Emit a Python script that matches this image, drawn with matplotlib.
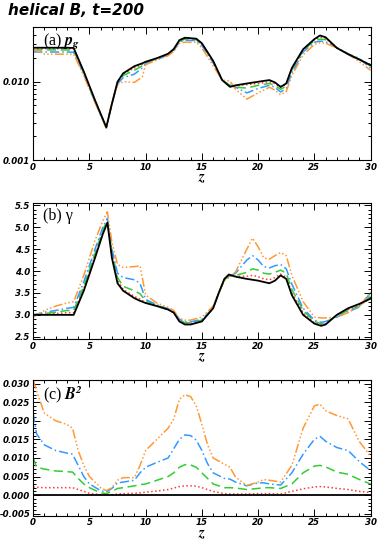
import numpy as np
import matplotlib
matplotlib.use("Agg")
import matplotlib.pyplot as plt
from matplotlib.ticker import MultipleLocator, LogLocator, NullFormatter, FixedLocator, FormatStrFormatter

# ---- data ----
zA = [0, 1, 2, 3, 3.6, 4.5, 5.5, 6.5, 7, 7.5, 8, 9, 9.7, 10, 11, 12, 12.5, 13, 13.5, 14.5,
      15, 16, 16.8, 17.5, 18, 19, 20, 21, 21.5, 22, 22.5, 23, 24, 25, 25.5, 26, 27, 28, 29, 30]
pg_black = [0.0272, 0.0272, 0.0272, 0.0272, 0.0270, 0.0135, 0.0058, 0.00262, 0.0052, 0.0100,
            0.0128, 0.0158, 0.0172, 0.0180, 0.0200, 0.0228, 0.0262, 0.0340, 0.0365, 0.0355,
            0.0310, 0.0185, 0.0105, 0.0086, 0.0090, 0.0095, 0.0100, 0.0105, 0.0098, 0.0086,
            0.0095, 0.0150, 0.0260, 0.0350, 0.0390, 0.0370, 0.0270, 0.0225, 0.0192, 0.0163]
pg_red = [0.0265, 0.0265, 0.0265, 0.0265, 0.0263, 0.0132, 0.0057, 0.00260, 0.0052, 0.0098,
          0.0125, 0.0150, 0.0168, 0.0178, 0.0198, 0.0226, 0.0258, 0.0335, 0.0360, 0.0350,
          0.0305, 0.0182, 0.0105, 0.0088, 0.0088, 0.0092, 0.0095, 0.0100, 0.0095, 0.0084,
          0.0093, 0.0145, 0.0255, 0.0345, 0.0370, 0.0360, 0.0272, 0.0225, 0.0193, 0.0165]
pg_green = [0.0255, 0.0255, 0.0255, 0.0255, 0.0253, 0.0128, 0.0056, 0.00258, 0.0053, 0.0096,
            0.0120, 0.0140, 0.0160, 0.0175, 0.0196, 0.0224, 0.0255, 0.0330, 0.0350, 0.0345,
            0.0300, 0.0180, 0.0105, 0.0090, 0.0085, 0.0083, 0.0090, 0.0095, 0.0090, 0.0080,
            0.0088, 0.0140, 0.0250, 0.0335, 0.0350, 0.0345, 0.0272, 0.0226, 0.0195, 0.0158]
pg_blue = [0.0240, 0.0240, 0.0240, 0.0240, 0.0238, 0.0125, 0.0055, 0.00257, 0.0054, 0.0094,
           0.0113, 0.0125, 0.0150, 0.0172, 0.0193, 0.0220, 0.0250, 0.0320, 0.0340, 0.0335,
           0.0290, 0.0175, 0.0105, 0.0090, 0.0085, 0.0072, 0.0082, 0.0090, 0.0085, 0.0074,
           0.0082, 0.0130, 0.0240, 0.0320, 0.0330, 0.0325, 0.0272, 0.0228, 0.0198, 0.0150]
pg_orange = [0.0265, 0.0225, 0.0225, 0.0225, 0.0225, 0.0120, 0.0054, 0.00255, 0.0056, 0.0092,
             0.0100, 0.0098, 0.0115, 0.0165, 0.0190, 0.0215, 0.0245, 0.0310, 0.0320, 0.0320,
             0.0270, 0.0160, 0.0105, 0.0102, 0.0080, 0.0060, 0.0072, 0.0085, 0.0078, 0.0068,
             0.0075, 0.0120, 0.0220, 0.0300, 0.0315, 0.0310, 0.0270, 0.0225, 0.0180, 0.0140]

zB = [0, 1, 2, 3, 3.6, 4.5, 5.5, 6.2, 6.6, 7, 7.5, 8, 9, 9.5, 10, 11, 12, 12.5, 13, 13.5, 14,
      15, 16, 16.5, 17, 17.4, 18, 19, 19.5, 20, 20.5, 21, 21.5, 22, 22.5, 23, 24, 25, 25.6, 26,
      27, 28, 29, 30]
gam_black = [3.0, 3.0, 3.0, 3.0, 3.0, 3.55, 4.3, 4.85, 5.1, 4.3, 3.72, 3.55, 3.38, 3.32, 3.27,
             3.2, 3.12, 3.05, 2.85, 2.78, 2.78, 2.85, 3.15, 3.5, 3.82, 3.92, 3.87, 3.82, 3.8,
             3.78, 3.75, 3.72, 3.78, 3.9, 3.82, 3.45, 3.0, 2.8, 2.75, 2.78, 3.0, 3.15, 3.25, 3.37]
gam_red = [3.0, 3.02, 3.03, 3.05, 3.05, 3.6, 4.35, 4.9, 5.13, 4.4, 3.8, 3.58, 3.42, 3.36, 3.28,
           3.2, 3.12, 3.05, 2.86, 2.8, 2.8, 2.87, 3.15, 3.5, 3.8, 3.9, 3.88, 3.88, 3.9, 3.87,
           3.82, 3.8, 3.85, 3.93, 3.86, 3.5, 3.05, 2.82, 2.78, 2.8, 3.0, 3.12, 3.22, 3.38]
gam_green = [3.0, 3.03, 3.06, 3.1, 3.1, 3.65, 4.4, 4.95, 5.15, 4.45, 3.85, 3.65, 3.55, 3.48,
             3.32, 3.22, 3.13, 3.06, 2.88, 2.82, 2.82, 2.88, 3.15, 3.5, 3.8, 3.88, 3.9, 3.97,
             4.05, 4.02, 3.95, 3.93, 3.97, 4.02, 3.95, 3.58, 3.1, 2.85, 2.8, 2.83, 2.98, 3.1,
             3.2, 3.42]
gam_blue = [3.0, 3.06, 3.1, 3.15, 3.17, 3.75, 4.5, 5.0, 5.2, 4.5, 3.95, 3.85, 3.8, 3.72, 3.35,
            3.23, 3.14, 3.07, 2.9, 2.84, 2.84, 2.9, 3.15, 3.5, 3.8, 3.87, 3.95, 4.25, 4.35,
            4.25, 4.1, 4.07, 4.12, 4.15, 4.05, 3.7, 3.15, 2.88, 2.83, 2.85, 2.95, 3.07, 3.18, 3.5]
gam_orange = [2.95, 3.1, 3.2, 3.27, 3.3, 3.9, 4.7, 5.15, 5.35, 4.65, 4.15, 4.08, 4.1, 4.12,
              3.45, 3.27, 3.17, 3.1, 2.92, 2.88, 2.88, 2.95, 3.2, 3.5, 3.78, 3.85, 3.98, 4.5,
              4.75, 4.55, 4.3, 4.27, 4.35, 4.42, 4.35, 3.9, 3.3, 2.95, 2.93, 2.93, 2.95, 3.05,
              3.2, 3.52]

zC = [0, 0.3, 1, 2, 3, 3.5, 4, 4.5, 5, 6, 6.5, 7, 7.5, 8, 9, 9.5, 10, 11, 12, 12.5, 13, 13.5,
      14, 14.5, 15, 15.5, 16, 17, 17.5, 18, 19, 20, 20.5, 21, 22, 23, 24, 25, 25.5, 26, 27, 28,
      29, 30]
b2_black = [0.0] * len(zC)
b2_red = [0.0022, 0.0021, 0.002, 0.002, 0.002, 0.002, 0.0015, 0.001, 0.0005, 0.0001, 0.0,
          0.0001, 0.0003, 0.0004, 0.0005, 0.0006, 0.0008, 0.0011, 0.0015, 0.0019, 0.0023,
          0.0025, 0.0025, 0.0024, 0.002, 0.0015, 0.001, 0.0004, 0.0003, 0.0003, 0.0003, 0.0004,
          0.0004, 0.0004, 0.0003, 0.001, 0.0017, 0.0022, 0.0023, 0.0022, 0.0018, 0.0015, 0.001,
          0.0007]
b2_green = [0.010, 0.0075, 0.007, 0.0065, 0.0063, 0.0062, 0.0045, 0.003, 0.002, 0.0006, 0.0004,
            0.001, 0.0018, 0.002, 0.0025, 0.0028, 0.003, 0.004, 0.005, 0.006, 0.0075, 0.0082,
            0.0081, 0.0075, 0.006, 0.0045, 0.003, 0.002, 0.002, 0.0019, 0.0015, 0.0018, 0.002,
            0.002, 0.0018, 0.003, 0.006, 0.0078, 0.008, 0.0076, 0.0062, 0.0056, 0.0042, 0.003]
b2_blue = [0.022, 0.0165, 0.0135, 0.012, 0.0113, 0.011, 0.008, 0.005, 0.003, 0.0012, 0.0008,
           0.0018, 0.0033, 0.0035, 0.004, 0.006, 0.0075, 0.0088, 0.010, 0.0125, 0.015, 0.0162,
           0.016, 0.0148, 0.012, 0.0085, 0.006, 0.0045, 0.0043, 0.0035, 0.0025, 0.0033, 0.0033,
           0.003, 0.0027, 0.006, 0.011, 0.015, 0.0158, 0.0145, 0.0128, 0.012, 0.009, 0.0066]
b2_orange = [0.031, 0.028, 0.022, 0.020, 0.019, 0.018, 0.012, 0.008, 0.005, 0.002, 0.0012,
             0.002, 0.004, 0.0047, 0.0047, 0.008, 0.012, 0.015, 0.018, 0.0205, 0.0258, 0.027,
             0.0265, 0.024, 0.019, 0.0136, 0.010, 0.0083, 0.0075, 0.0048, 0.0026, 0.0035, 0.0042,
             0.004, 0.0035, 0.008, 0.018, 0.024, 0.0245, 0.0227, 0.0214, 0.0205, 0.0144, 0.0105]

styles = [
    ("#ff3b3b", (0, (1, 1.6))),
    ("#33cc33", (0, (6, 3))),
    ("#3399ff", (0, (6, 2, 1, 2))),
    ("#ff9933", (0, (6, 1.5, 1, 1.5, 1, 1.5, 1, 1.5))),
]

# tick labels in bold italic (IDL look)
plt.rcParams["font.family"] = "DejaVu Sans"
plt.rcParams["font.weight"] = "bold"
plt.rcParams["font.style"] = "italic"
plt.rcParams["mathtext.fontset"] = "stix"

fig = plt.figure(figsize=(3.77, 5.45), dpi=100)

left, width = 0.088, 0.895
axA = fig.add_axes([left, 0.7064, width, 0.2440])
axB = fig.add_axes([left, 0.378, width, 0.2495])
axC = fig.add_axes([left, 0.0540, width, 0.2490])


def draw(ax, z, series, black):
    for (col, ls), y in zip(styles, series):
        ax.plot(z, y, color=col, ls=ls, lw=1.1)
    ax.plot(z, black, color="black", lw=1.3)


draw(axA, zA, [pg_red, pg_green, pg_blue, pg_orange], pg_black)
draw(axB, zB, [gam_red, gam_green, gam_blue, gam_orange], gam_black)
draw(axC, zC, [b2_red, b2_green, b2_blue, b2_orange], b2_black)

axA.set_yscale("log")
axA.set_ylim(0.001, 0.05)
axA.yaxis.set_major_locator(FixedLocator([0.001, 0.01]))
axA.yaxis.set_major_formatter(FormatStrFormatter("%.3f"))
axA.yaxis.set_minor_locator(LogLocator(base=10, subs=np.arange(2, 10)))
axA.yaxis.set_minor_formatter(NullFormatter())

axB.set_ylim(2.45, 5.55)
axB.yaxis.set_major_locator(MultipleLocator(0.5))
axB.yaxis.set_minor_locator(MultipleLocator(0.1))
axB.yaxis.set_major_formatter(FormatStrFormatter("%.1f"))

axC.set_ylim(-0.0055, 0.031)
axC.yaxis.set_major_locator(MultipleLocator(0.005))
axC.yaxis.set_minor_locator(MultipleLocator(0.001))
axC.yaxis.set_major_formatter(FormatStrFormatter("%.3f"))

for ax in (axA, axB, axC):
    ax.set_xlim(0, 30)
    ax.xaxis.set_major_locator(MultipleLocator(5))
    ax.xaxis.set_minor_locator(MultipleLocator(1))
    ax.tick_params(which="both", direction="in", top=True, right=True, width=0.7,
                   labelsize=6.2, pad=2)
    ax.tick_params(which="major", length=5)
    ax.tick_params(which="minor", length=2.5)
    for sp in ax.spines.values():
        sp.set_linewidth(0.8)
    ax.set_xlabel(r"$z$", fontsize=11, labelpad=-1)

lab = dict(fontsize=11.5, va="top", family="Liberation Serif", weight="normal", style="normal")
axA.text(0.03, 0.97, r"(a) $p_{\rm g}$", transform=axA.transAxes, **lab)
axB.text(0.03, 0.96, "(b) γ", transform=axB.transAxes, **lab)
axC.text(0.03, 0.97, r"(c) $\boldsymbol{B}^{\mathbf{2}}$", transform=axC.transAxes, **lab)

fig.text(0.02, 0.995, "helical B, t=200", fontsize=11, weight="bold", style="italic",
         family="DejaVu Sans", va="top")

fig.savefig("out.png", dpi=100)
